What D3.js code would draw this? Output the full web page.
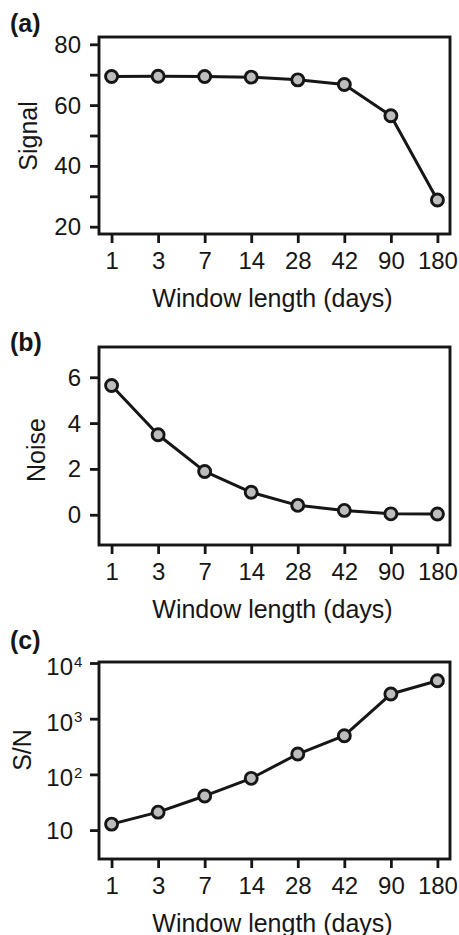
<!DOCTYPE html>
<html>
<head>
<meta charset="utf-8">
<script src="https://cdn.jsdelivr.net/npm/d3@7"></script>
<style>
  html, body { margin: 0; padding: 0; background: #ffffff; }
  svg { display: block; }
  text { font-family: "Liberation Sans", Arial, Helvetica, sans-serif; fill: #161616; }
</style>
</head>
<body>
<svg id="chart" width="459" height="935"></svg>
<script>
// Window lengths (days) on the shared x axis
const windowDays = ["1", "3", "7", "14", "28", "42", "90", "180"];

// Series values per window length
const signalValues = [69.4, 69.5, 69.4, 69.2, 68.3, 66.8, 56.5, 28.8];
const noiseValues = [5.64, 3.49, 1.89, 0.98, 0.41, 0.19, 0.04, 0.03];
const snValues = [12.8, 21, 41, 85, 232, 495, 2775, 4800];

// Tick values
const signalTicks = [20, 30, 40, 50, 60, 70, 80];
const signalTickLabels = ["20", "", "40", "", "60", "", "80"];
const noiseTicks = [0, 2, 4, 6];
const snTicks = [10, 100, 1000, 10000];
const snTickExponents = ["", "2", "3", "4"];

const svg = d3.select("#chart");
const INK = "#161616";
const FONT = 24;

const frameLeft = 99, frameRight = 450;

const x = d3.scalePoint()
  .domain(windowDays)
  .range([frameLeft, frameRight])
  .padding(0.27);

const panels = [
  {
    tag: "(a)", tagY: 32, top: 37, bottom: 234,
    title: "Signal", titleX: 37, titleY: 136,
    values: signalValues,
    y: d3.scaleLinear().domain([17.6, 82.4]),
    ticks: signalTicks,
    tickLabel: (d, i) => signalTickLabels[i]
  },
  {
    tag: "(b)", tagY: 351, top: 347, bottom: 545,
    title: "Noise", titleX: 45, titleY: 450,
    values: noiseValues,
    y: d3.scaleLinear().domain([-1.32, 7.32]),
    ticks: noiseTicks,
    tickLabel: d => String(d)
  },
  {
    tag: "(c)", tagY: 649, top: 662, bottom: 859,
    title: "S/N", titleX: 31, titleY: 750,
    values: snValues,
    y: d3.scaleLog().domain([Math.pow(10, 0.481), Math.pow(10, 4.018)]),
    ticks: snTicks,
    log: true
  }
];

panels.forEach(p => {
  p.y.range([p.bottom, p.top]);
  const g = svg.append("g");

  // y axis on the left edge of the frame
  const yAxis = d3.axisLeft(p.y)
    .tickValues(p.ticks)
    .tickSizeInner(9)
    .tickSizeOuter(0)
    .tickPadding(9)
    .tickFormat(p.log ? () => "" : p.tickLabel);
  const ya = g.append("g")
    .attr("transform", `translate(${frameLeft},0)`)
    .call(yAxis);
  ya.select(".domain").remove();
  ya.selectAll(".tick line").attr("stroke", INK).attr("stroke-width", 2.8);
  ya.selectAll(".tick text")
    .attr("font-size", FONT)
    .attr("dy", null)
    .attr("y", 8)
    .attr("fill", INK);

  if (p.log) {
    // powers of ten written as 10 with a raised exponent
    ya.selectAll(".tick").each(function (d, i) {
      const t = d3.select(this);
      t.select("text").remove();
      const exp = snTickExponents[i];
      t.append("text")
        .attr("x", -26)
        .attr("y", exp ? 11.5 : 8)
        .attr("text-anchor", "end")
        .attr("font-size", FONT)
        .text("10");
      if (exp) {
        t.append("text")
          .attr("x", -25)
          .attr("y", 3)
          .attr("text-anchor", "start")
          .attr("font-size", 15)
          .text(exp);
      }
    });
  }

  // x axis under the frame
  const xAxis = d3.axisBottom(x)
    .tickSizeInner(9)
    .tickSizeOuter(0)
    .tickPadding(0);
  const xa = g.append("g")
    .attr("transform", `translate(0,${p.bottom})`)
    .call(xAxis);
  xa.select(".domain").remove();
  xa.selectAll(".tick line").attr("stroke", INK).attr("stroke-width", 2.8);
  xa.selectAll(".tick text")
    .attr("font-size", FONT)
    .attr("dy", null)
    .attr("y", 34.5)
    .attr("fill", INK);

  // plot frame
  g.append("rect")
    .attr("x", frameLeft)
    .attr("y", p.top)
    .attr("width", frameRight - frameLeft)
    .attr("height", p.bottom - p.top)
    .attr("fill", "none")
    .attr("stroke", INK)
    .attr("stroke-width", 2.9);

  // connecting line
  const line = d3.line()
    .x((d, i) => x(windowDays[i]))
    .y(d => p.y(d));
  g.append("path")
    .datum(p.values)
    .attr("d", line)
    .attr("fill", "none")
    .attr("stroke", INK)
    .attr("stroke-width", 3)
    .attr("stroke-linejoin", "round");

  // markers
  g.selectAll("circle")
    .data(p.values)
    .join("circle")
    .attr("cx", (d, i) => x(windowDays[i]))
    .attr("cy", d => p.y(d))
    .attr("r", 6)
    .attr("fill", "#bdbdbd")
    .attr("stroke", INK)
    .attr("stroke-width", 2.9);

  // axis titles
  g.append("text")
    .attr("x", (frameLeft + frameRight) / 2 - 2)
    .attr("y", p.bottom + 72.5)
    .attr("text-anchor", "middle")
    .attr("font-size", FONT + 1)
    .text("Window length (days)");

  g.append("text")
    .attr("transform", `translate(${p.titleX},${p.titleY}) rotate(-90)`)
    .attr("text-anchor", "middle")
    .attr("font-size", FONT + 1)
    .text(p.title);

  // panel tag
  g.append("text")
    .attr("x", 10)
    .attr("y", p.tagY)
    .attr("font-size", FONT + 1)
    .attr("font-weight", "bold")
    .text(p.tag);
});
</script>
</body>
</html>
